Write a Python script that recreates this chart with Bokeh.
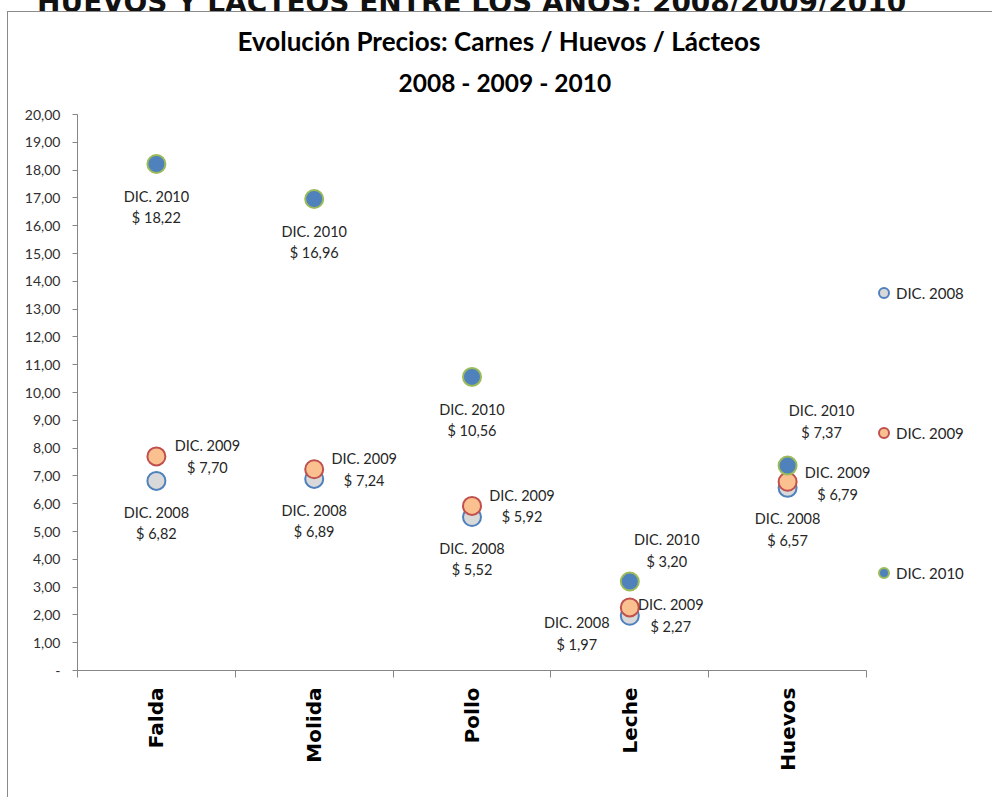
import math
from bokeh.plotting import figure
from bokeh.layouts import column
from bokeh.models import (Range1d, FixedTicker, CustomJSTickFormatter, Title,
                          Legend, LegendItem, ColumnDataSource, Div)
from bokeh.core.properties import value
from bokeh.embed import file_html
from bokeh.resources import INLINE

# ---------------- data ----------------
categories = ["Falda", "Molida", "Pollo", "Leche", "Huevos"]
series_names = ["DIC. 2008", "DIC. 2009", "DIC. 2010"]
prices_2008 = [6.82, 6.89, 5.52, 1.97, 6.57]
prices_2009 = [7.70, 7.24, 5.92, 2.27, 6.79]
prices_2010 = [18.22, 16.96, 10.56, 3.20, 7.37]
y_ticks = list(range(0, 21))

title_lines = ["Evolución Precios: Carnes / Huevos / Lácteos", "2008 - 2009 - 2010"]
heading = "HUEVOS Y LÁCTEOS ENTRE LOS AÑOS: 2008/2009/2010"

# ---------------- label placement (pixels) ----------------
label_dx = [[0, 0, 0, -53, 0], [51, 50, 50, 41, 50], [0, 0, 0, 37, 34]]
label_dy = [[42, 42, 42, 18, 42], [0, 0, 0, 8, 2], [43, 43, 43, -31, -44]]

fills = ["#D9D9D9", "#FAC090", "#4F81BD"]
lines = ["#4F81BD", "#C0504D", "#9BBB59"]

FONT = "Lato"
AXIS_GREY = "#868686"

# plot frame keeps room on its right for the legend; the category axis
# itself only spans the five categories (axis bounds)
n = len(categories)
FRAME_W = 916
x_end = n * FRAME_W / 789

p = figure(width=985, height=786, x_range=Range1d(0, x_end),
           y_range=Range1d(0, 20), output_backend="svg", toolbar_location=None,
           min_border_left=69, min_border_right=0, min_border_top=102,
           min_border_bottom=128)
p.margin = (0, 0, 0, 7)
p.styles = {"border-left": "1px solid #8a8a8a", "border-top": "1px solid #8a8a8a"}
p.title.visible = False
p.grid.visible = False
p.outline_line_color = None
p.background_fill_color = "white"
p.border_fill_color = "white"

# y axis
ya = p.yaxis[0]
ya.ticker = FixedTicker(ticks=y_ticks, minor_ticks=[])
ya.formatter = CustomJSTickFormatter(
    code='return tick == 0 ? "-" : tick.toFixed(2).replace(".", ",");')
ya.axis_line_color = AXIS_GREY
ya.major_tick_line_color = AXIS_GREY
ya.major_tick_out = 5
ya.major_tick_in = 0
ya.minor_tick_line_color = None
ya.major_label_text_font = FONT
ya.major_label_text_font_size = "14px"
ya.major_label_text_color = "#303030"
ya.major_label_standoff = 12

# x axis: labels at category centres, tick marks at category boundaries
xa = p.xaxis[0]
xa.bounds = (0, n)
xa.ticker = FixedTicker(ticks=[i + 0.5 for i in range(n)],
                        minor_ticks=list(range(n + 1)))
xa.formatter = CustomJSTickFormatter(args=dict(cats=categories),
                                     code="return cats[Math.floor(tick)];")
xa.axis_line_color = AXIS_GREY
xa.major_tick_line_color = None
xa.major_tick_out = 0
xa.major_tick_in = 0
xa.minor_tick_line_color = AXIS_GREY
xa.minor_tick_out = 7
xa.minor_tick_in = 0
xa.major_label_orientation = math.pi / 2
xa.major_label_text_font = "DejaVu Sans"
xa.major_label_text_font_style = "bold"
xa.major_label_text_font_size = "20px"
xa.major_label_text_color = "black"
xa.major_label_standoff = 10

# points + data labels
xs = [i + 0.5 for i in range(n)]
all_prices = [prices_2008, prices_2009, prices_2010]
renderers = []
for k, (name, vals) in enumerate(zip(series_names, all_prices)):
    texts = [name + "\n$ " + f"{v:.2f}".replace(".", ",") for v in vals]
    src = ColumnDataSource(dict(x=xs, y=vals, label=texts,
                                dx=label_dx[k], dy=label_dy[k]))
    r = p.scatter("x", "y", source=src, size=18, fill_color=fills[k],
                  line_color=lines[k], line_width=2)
    renderers.append(r)
    p.text("x", "y", text="label", x_offset="dx", y_offset="dy", source=src,
           text_font=value(FONT), text_font_size="14.5px", text_align="center",
           text_baseline="middle", text_line_height=1.28, text_color="#262626")

legend = Legend(items=[LegendItem(label=nm, renderers=[r])
                       for nm, r in zip(series_names, renderers)],
                location=(794, 85), orientation="vertical",
                glyph_width=25, glyph_height=25, spacing=115, padding=0,
                margin=0, label_standoff=0, border_line_color=None,
                background_fill_alpha=0, label_text_font=FONT,
                label_text_font_size="15px", label_text_color="#262626")
p.add_layout(legend)

# chart title (two lines); the first added sits closest to the plot
p.add_layout(Title(text=title_lines[1], align="left", offset=321,
                   text_font=FONT, text_font_style="bold", text_font_size="24.5px",
                   text_color="black", standoff=36), "above")
p.add_layout(Title(text=title_lines[0], align="left", offset=160,
                   text_font=FONT, text_font_style="bold", text_font_size="26px",
                   text_color="black", standoff=-18), "above")

head = Div(text=('<div style="font-family:\'DejaVu Sans\';font-weight:bold;'
                 'font-size:28px;line-height:28px;white-space:nowrap;'
                 'margin-top:-24px;margin-left:37px;color:#111;">' + heading + '</div>'),
           width=985, height=11, margin=0, styles={"overflow": "hidden"})

layout = column(head, p, spacing=0)
open("out.html", "w").write(file_html(layout, INLINE))
